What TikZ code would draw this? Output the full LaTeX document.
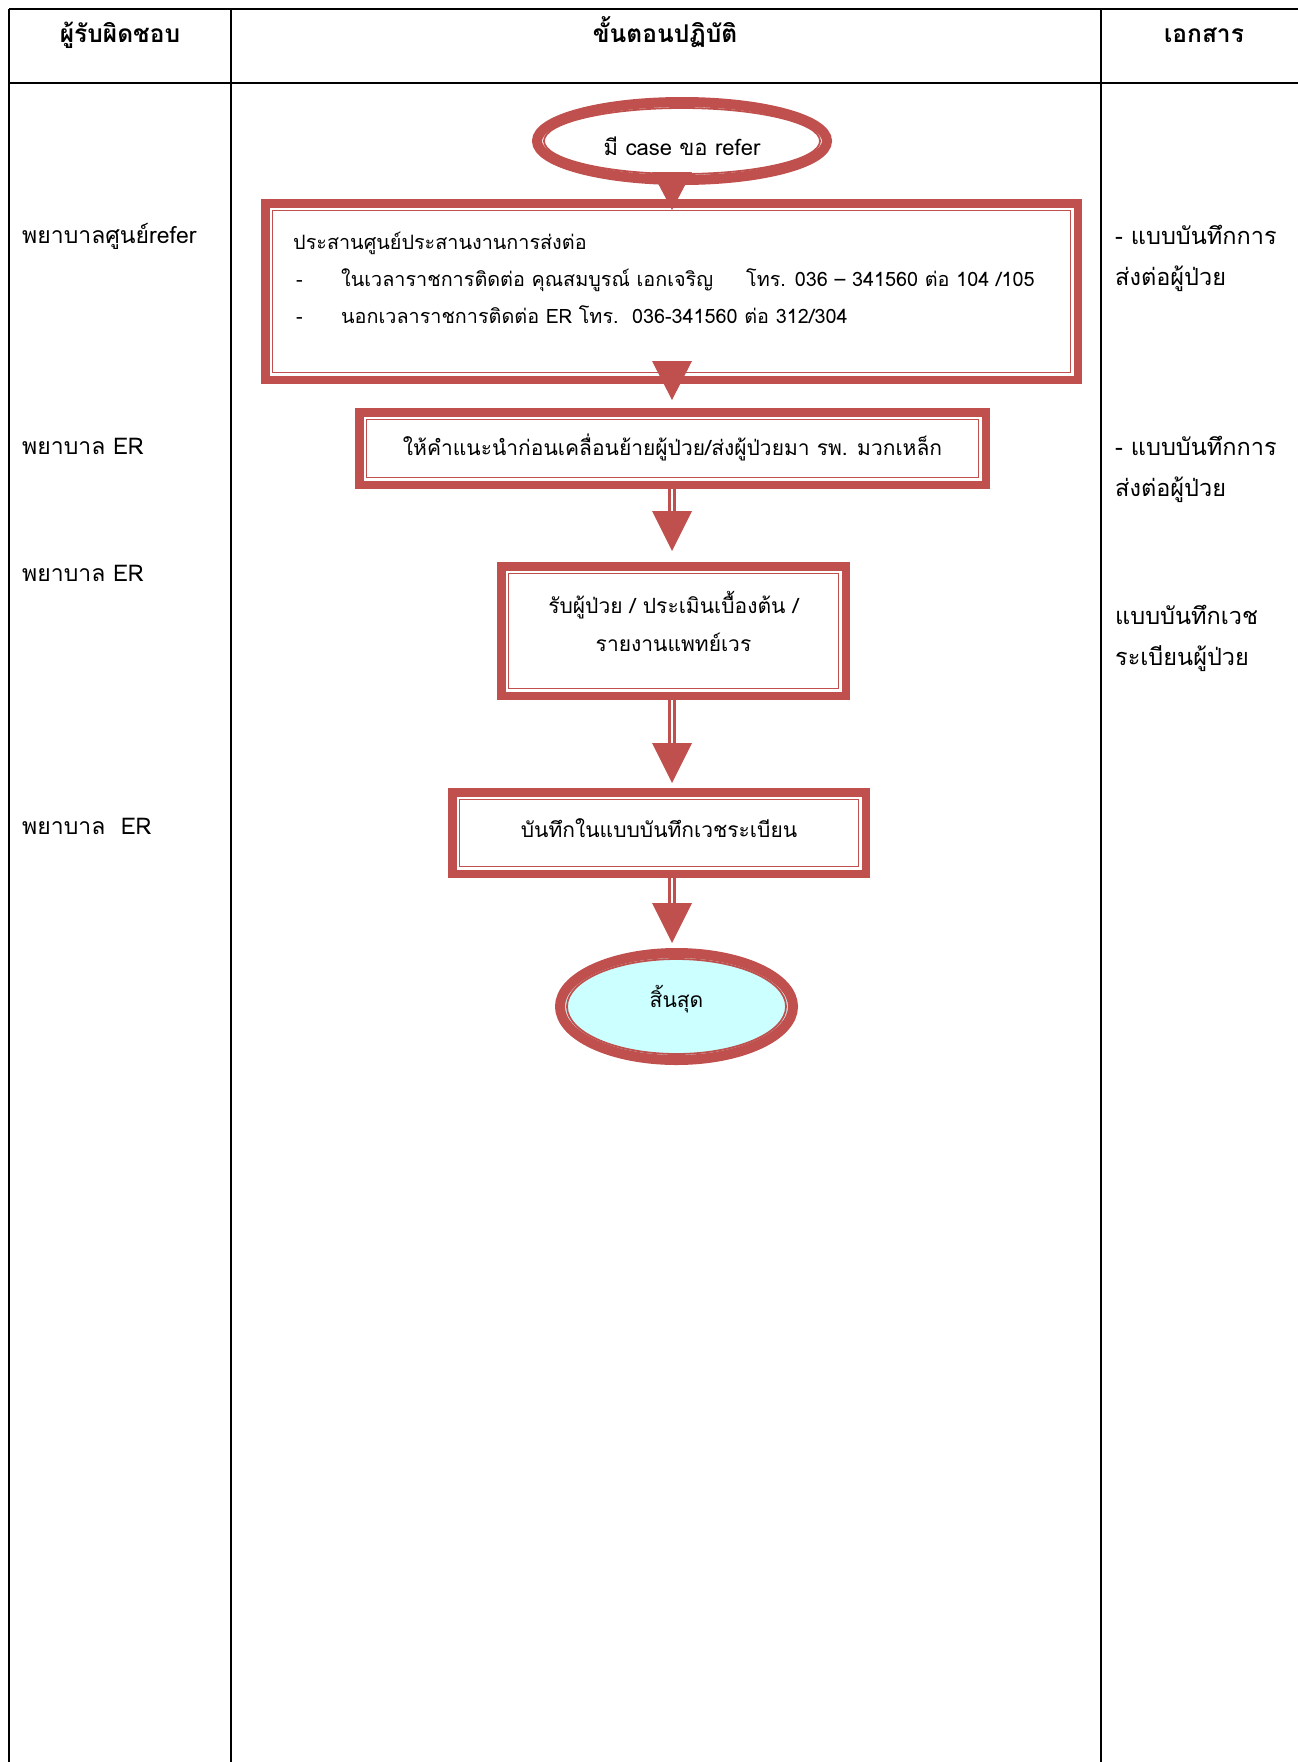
\documentclass[tikz,border=0pt]{standalone}
\usepackage{fontspec}
\newfontfamily\thai[Script=Thai]{Loma}
\usetikzlibrary{shapes.geometric}
\definecolor{rd}{HTML}{C0504D}
\definecolor{cy}{HTML}{CCFFFF}
\newcommand\arrtip[2]{\fill[rd] ([shift={(-20,#2)}]#1) -- ([shift={(20,#2)}]#1) -- (#1) -- cycle;}
\begin{document}
\begin{tikzpicture}[x=1pt,y=1pt,
  every node/.style={font=\thai\fontsize{21}{37}\selectfont, inner sep=0pt},
  grid/.style={line width=2.7pt, black},
  hd/.style={font=\thai\bfseries\fontsize{24.5}{37}\selectfont},
  frame/.style={draw=rd, line width=8.5pt, fill=white, rectangle, align=center},
  oneline/.style={text height=15pt, text depth=6pt},
  inframe/.style={draw=rd, line width=1.8pt},
  oval/.style={draw=rd, line width=10pt, ellipse, fill=white},
  shaft/.style={draw=rd, line width=3.2pt, double=white, double distance=2pt},
  lefttxt/.style={anchor=base west, font=\thai\fontsize{23}{37}\selectfont},
  righttxt/.style={anchor=north west, align=left, font=\thai\fontsize{23.5}{41.5}\selectfont}]
\useasboundingbox (0,0) rectangle (1298,-1762);
% table grid
\draw[grid] (9,-9) -- (1298,-9);
\draw[grid] (9,-83) -- (1298,-83);
\draw[grid] (9,-9) -- (9,-1762);
\draw[grid] (231,-9) -- (231,-1762);
\draw[grid] (1101,-9) -- (1101,-1762);
% headers
\node[hd, anchor=base] (h1) at (120,-42) {ผู้รับผิดชอบ};
\node[hd, anchor=base] (h2) at (665,-42) {ขั้นตอนปฏิบัติ};
\node[hd, anchor=base] (h3) at (1204,-42) {เอกสาร};
% left column
\node[lefttxt] (r1) at (22,-243) {พยาบาลศูนย์refer};
\node[lefttxt] (r2) at (22,-454) {พยาบาล ER};
\node[lefttxt] (r3) at (22,-581) {พยาบาล ER};
\node[lefttxt] (r4) at (22,-834) {พยาบาล\ \ ER};
% right column
\node[righttxt] (d1) at (1115,-215) {\strut - แบบบันทึกการ\\\strut ส่งต่อผู้ป่วย};
\node[righttxt] (d2) at (1115,-426) {\strut - แบบบันทึกการ\\\strut ส่งต่อผู้ป่วย};
\node[righttxt] (d3) at (1115,-595) {\strut แบบบันทึกเวช\\\strut ระเบียนผู้ป่วย};
% flow nodes
\node[oval, font=\thai\fontsize{22}{37}\selectfont, minimum width=290, minimum height=78, text height=28.8pt, text depth=0pt] (e1) at (682,-141) {มี case ขอ refer};
\node[frame, minimum width=812.5, minimum height=176.5] (b1) at (671.5,-291.5) {};
\node[frame, text height=19.4pt, text depth=6pt, minimum width=626.5, minimum height=72.5] (b2) at (672.5,-448.5) {ให้คำแนะนำก่อนเคลื่อนย้ายผู้ป่วย/ส่งผู้ป่วยมา รพ. มวกเหล็ก};
\node[frame, minimum width=344.5, minimum height=129.5] (b3) at (673.5,-631) {};
\node[frame, oneline, minimum width=413.5, minimum height=81.5] (b4) at (659,-833) {บันทึกในแบบบันทึกเวชระเบียน};
\node[oval, text height=15pt, text depth=12.8pt, fill=cy, minimum width=233, minimum height=107] (e2) at (676.5,-1006.5) {สิ้นสุด};
% inner lines
\foreach \n in {b1,b2,b3,b4}
  \draw[inframe] ([shift={(11.5,-11.5)}]\n.north west) rectangle ([shift={(-11.5,11.5)}]\n.south east);
\draw[inframe] (e1.center) ellipse [x radius=138, y radius=33];
\draw[inframe] (e2.center) ellipse [x radius=109.5, y radius=47.5];
% texts in boxes
\node[anchor=north west, align=left, font=\thai\fontsize{19.8}{37}\selectfont] (t1) at ([shift={(32,-24)}]b1.north west)
  {\strut ประสานศูนย์ประสานงานการส่งต่อ\\
   \strut\hspace{3pt}\makebox[45pt][l]{-}ในเวลาราชการติดต่อ คุณสมบูรณ์ เอกเจริญ\hspace{33pt}โทร. 036 – 341560 ต่อ 104 /105\\
   \strut\hspace{3pt}\makebox[45pt][l]{-}นอกเวลาราชการติดต่อ ER โทร.\ \ 036-341560 ต่อ 312/304};
\node[anchor=north, align=center, font=\thai\fontsize{21}{38}\selectfont] (t3) at ([yshift=-24.5]b3.north)
  {\strut รับผู้ป่วย / ประเมินเบื้องต้น /\\\strut รายงานแพทย์เวร};
% connectors
\coordinate (ax) at (672,0);
\path (ax |- b1.north) ++(0,-11) coordinate (k1);
\arrtip{k1}{38}
\path (ax |- b2.north) ++(0,8) coordinate (k2);
\arrtip{k2}{39}
\path (ax |- b3.north) ++(0,11) coordinate (k3);
\draw[shaft] (ax |- b2.south) -- ([yshift=38]k3);
\arrtip{k3}{40}
\path (ax |- b4.north) ++(0,5) coordinate (k4);
\draw[shaft] (ax |- b3.south) -- ([yshift=38]k4);
\arrtip{k4}{40}
\path (ax |- e2.north) ++(0,5) coordinate (k5);
\draw[shaft] (ax |- b4.south) -- ([yshift=38]k5);
\arrtip{k5}{40}
\end{tikzpicture}
\end{document}
